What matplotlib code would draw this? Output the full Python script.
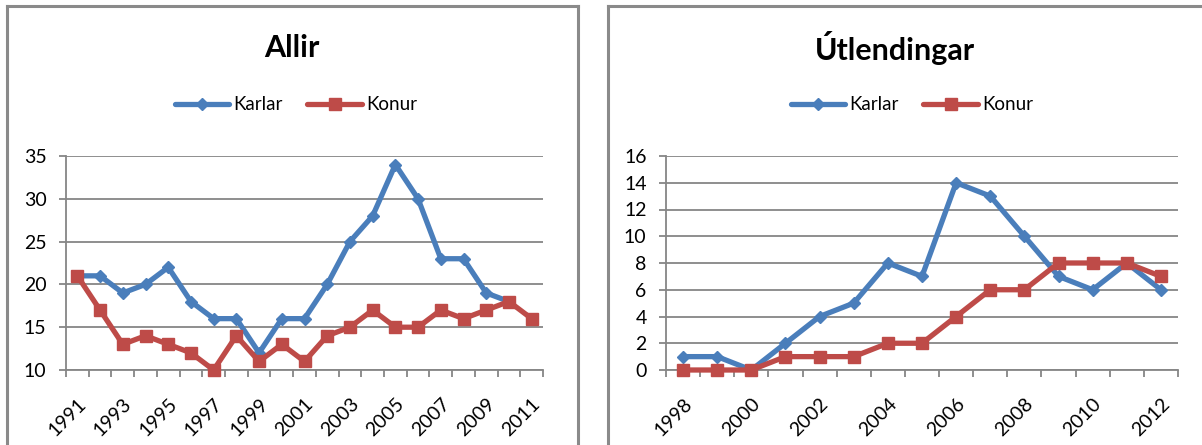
import numpy as np
import matplotlib
matplotlib.use("Agg")
import matplotlib.pyplot as plt
from matplotlib.lines import Line2D
import matplotlib.transforms as mtransforms

plt.rcParams['font.family'] = ['Lato', 'DejaVu Sans']

# ---- data ----
years_all = list(range(1991, 2012))
karlar_all = [21, 21, 19, 20, 22, 18, 16, 16, 12, 16, 16, 20, 25, 28, 34, 30, 23, 23, 19, 18, np.nan]
konur_all = [21, 17, 13, 14, 13, 12, 10, 14, 11, 13, 11, 14, 15, 17, 15, 15, 17, 16, 17, 18, 16]

years_utl = list(range(1998, 2013))
karlar_utl = [1, 1, 0, 2, 4, 5, 8, 7, 14, 13, 10, 7, 6, 8, 6]
konur_utl = [0, 0, 0, 1, 1, 1, 2, 2, 4, 6, 6, 8, 8, 8, 7]

titles = ["Allir", "Útlendingar"]
series_names = ["Karlar", "Konur"]

BLUE = "#4a7ebb"
RED = "#be4b48"
GRID = "#868686"

W, H = 1202, 445
fig = plt.figure(figsize=(W / 100, H / 100), dpi=100)


def px_rect(x0, x1, y_top, y_bot):
    return [x0 / W, 1 - y_bot / H, (x1 - x0) / W, (y_bot - y_top) / H]


def draw_panel(rect, years, k, f, ylim, ystep, title, title_x, legend_x, label_step=2):
    ax = fig.add_axes(rect)
    n = len(years)
    x = np.arange(n)
    ax.set_xlim(-0.5, n - 0.5)
    ax.set_ylim(*ylim)
    ax.set_yticks(np.arange(ylim[0], ylim[1] + 0.1, ystep))
    ax.yaxis.grid(True, color=GRID, linewidth=1.3)
    ax.set_axisbelow(True)
    for s in ["top", "right"]:
        ax.spines[s].set_visible(False)
    for s in ["left", "bottom"]:
        ax.spines[s].set_color(GRID)
        ax.spines[s].set_linewidth(1.3)
    ax.tick_params(axis='y', length=5, width=1.3, color=GRID, pad=9, labelsize=14)
    # x: tick marks at category boundaries, labels at every other category
    ax.set_xticks(np.arange(-0.5, n, 1.0), minor=True)
    ax.set_xticks(x[::label_step])
    labels = ax.set_xticklabels([str(y) for y in years[::label_step]], rotation=45,
                                ha='right', va='top', rotation_mode='anchor')
    shift = mtransforms.ScaledTranslation(6 / 100, 0, fig.dpi_scale_trans)
    for lab in labels:
        lab.set_transform(lab.get_transform() + shift)
    ax.tick_params(axis='x', which='major', length=0, pad=18, labelsize=14)
    ax.tick_params(axis='x', which='minor', length=5, width=1.3, color=GRID)
    l1, = ax.plot(x, k, color=BLUE, lw=3.8, marker='D', ms=6.5, label=series_names[0],
                  solid_capstyle='round', solid_joinstyle='round', clip_on=False, zorder=3)
    l2, = ax.plot(x, f, color=RED, lw=3.8, marker='s', ms=8.5, label=series_names[1],
                  solid_capstyle='round', solid_joinstyle='round', clip_on=False, zorder=4)
    fig.text(title_x / W, 1 - 48 / H, title, ha='center', va='center',
             fontsize=22, fontweight='bold')
    fig.legend(handles=[l1, l2], loc='center', bbox_to_anchor=(legend_x / W, 1 - 105 / H),
               ncol=2, frameon=False, fontsize=13.5, handlelength=2.9,
               columnspacing=1.3, handletextpad=0.25)
    return ax


ax1 = draw_panel(px_rect(66, 543, 156, 370), years_all, karlar_all, konur_all,
                 (10, 35), 5, titles[0], 292, 296)
ax2 = draw_panel(px_rect(666, 1178, 156, 370), years_utl, karlar_utl, konur_utl,
                 (0, 16), 2, titles[1], 895, 912)

# panel borders (chart area frames)
def frame(x0, x1, y_top, right=True):
    kw = dict(color="#8a8a8a", linewidth=2.2, transform=fig.transFigure)
    fig.add_artist(Line2D([x0 / W, x0 / W], [1 - y_top / H, -0.01], **kw))
    fig.add_artist(Line2D([x0 / W, x1 / W], [1 - y_top / H, 1 - y_top / H], **kw))
    if right:
        fig.add_artist(Line2D([x1 / W, x1 / W], [1 - y_top / H, -0.01], **kw))

frame(6.7, 577.7, 6.3)
frame(608, 1210, 6.3, right=False)

fig.savefig("out.png", dpi=100)
